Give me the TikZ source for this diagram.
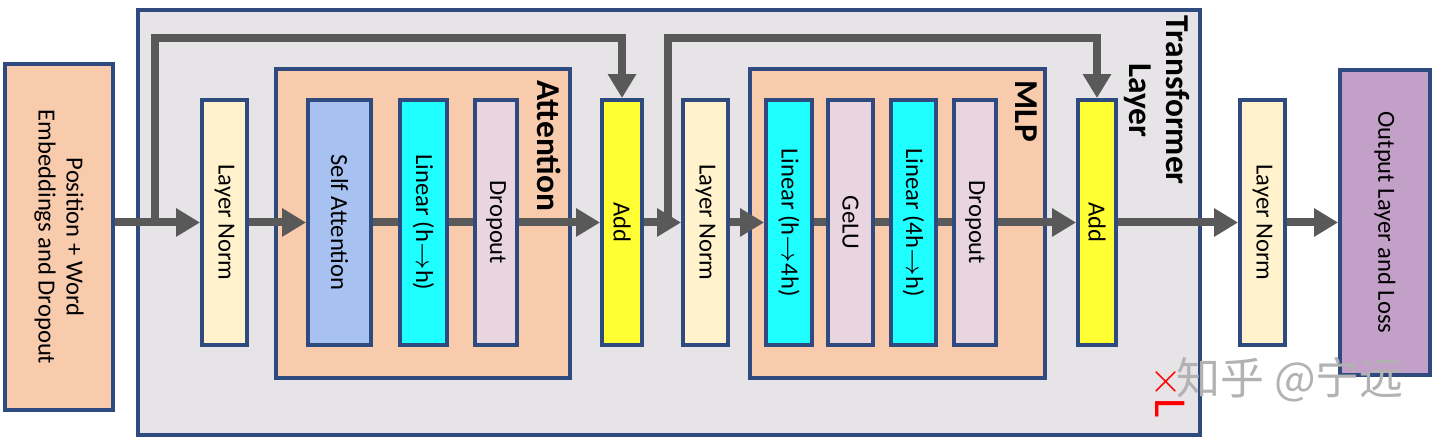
\documentclass[tikz,border=0pt]{standalone}
\usepackage{fontspec}
\setmainfont{Carlito}
\newfontfamily\cjk{Noto Sans CJK SC}
\usetikzlibrary{arrows.meta,positioning,calc}
\definecolor{edgeblue}{HTML}{2F4A7F}
\definecolor{flowgray}{HTML}{595959}
\definecolor{layergray}{HTML}{E6E4E6}
\definecolor{peach}{HTML}{F8CBAD}
\definecolor{cream}{HTML}{FFF2CC}
\definecolor{softblue}{HTML}{A7C1F1}
\definecolor{aqua}{HTML}{1FFFFF}
\definecolor{pinkish}{HTML}{E8D5E0}
\definecolor{lemon}{HTML}{FFFF33}
\definecolor{lilac}{HTML}{C3A0C8}

\begin{document}
\begin{tikzpicture}
      [flow/.style={line width = 0.08cm, draw = flowgray},
      arr/.style={flow, -{Triangle[length = 0.24cm, width = 0.27cm]}},
      group/.style={draw = edgeblue, line width = 1.1pt},
      block/.style= {
         draw = edgeblue,
         line width = 1.1pt,
         rotate = -90,
         minimum width = 2.45cm,
         minimum height = 0.45cm,
         inner sep = 0pt,
         font = \fontsize{7}{8}\selectfont
      },
      title/.style={rotate = -90, font = \fontsize{9.5}{10.5}\selectfont\bfseries, align = center, inner sep = 0pt}]
      \useasboundingbox (0, 0) rectangle (14.4, -4.45);

      % containers
      \draw[group, fill = layergray] (1.38, -0.10) rectangle (12.00, -4.35);
      \draw[group, fill = peach] (2.76, -0.69) rectangle (5.70, -3.78);
      \draw[group, fill = peach] (7.50, -0.69) rectangle (10.45, -3.78);
      \node[title, anchor = north west] (attn) at (5.62, -0.80) {Attention};
      \node[title, anchor = north west] (mlp) at (10.38, -0.80) {MLP};
      \node[title, anchor = north west] (tl) at (11.90, -0.15) {Transformer\\Layer};

      % blocks
      \node[block, fill = peach, minimum width = 3.46cm, minimum height = 1.08cm, align = center] (pos) at (0.59, -2.37) {Position + Word\\Embeddings and Dropout};
      \node[block, fill = cream] (ln1) at (2.245, -2.225) {Layer Norm};
      \node[block, fill = softblue, minimum height = 0.63cm] (sa) at (3.395, -2.225) {Self Attention};
      \node[block, fill = aqua, minimum height = 0.47cm] (lin1) at (4.235, -2.225) {Linear (h$\rightarrow$h)};
      \node[block, fill = pinkish, minimum height = 0.42cm] (drop1) at (4.96, -2.225) {Dropout};
      \node[block, fill = lemon, minimum height = 0.40cm] (add1) at (6.22, -2.225) {Add};
      \node[block, fill = cream] (ln2) at (7.055, -2.225) {Layer Norm};
      \node[block, fill = aqua, minimum height = 0.46cm] (lin2) at (7.89, -2.225) {Linear (h$\rightarrow$4h)};
      \node[block, fill = pinkish] (gelu) at (8.505, -2.225) {GeLU};
      \node[block, fill = aqua] (lin3) at (9.135, -2.225) {Linear (4h$\rightarrow$h)};
      \node[block, fill = pinkish, minimum height = 0.42cm] (drop2) at (9.75, -2.225) {Dropout};
      \node[block, fill = lemon, minimum height = 0.38cm] (add2) at (10.97, -2.225) {Add};
      \node[block, fill = cream] (ln3) at (12.625, -2.225) {Layer Norm};
      \node[block, fill = lilac, minimum width = 3.05cm, minimum height = 0.90cm] (out) at (13.85, -2.225) {Output Layer and Loss};

      % main path
      \draw[arr] (pos.north |- ln1.south) -- (ln1.south);
      \draw[arr] (ln1.north) -- (sa.south);
      \draw[flow] (sa.north) -- (lin1.south);
      \draw[flow] (lin1.north) -- (drop1.south);
      \draw[arr] (drop1.north) -- (add1.south);
      \draw[arr] (add1.north) -- (ln2.south);
      \draw[arr] (ln2.north) -- (lin2.south);
      \draw[flow] (lin2.north) -- (gelu.south);
      \draw[flow] (gelu.north) -- (lin3.south);
      \draw[flow] (lin3.north) -- (drop2.south);
      \draw[arr] (drop2.north) -- (add2.south);
      \draw[arr] (add2.north) -- (ln3.south);
      \draw[arr] (ln3.north) -- (out.south);

      % residual paths
      \coordinate (skipA) at (1.55, -2.225);
      \coordinate (skipB) at (6.68, -2.225);
      \draw[arr] (skipA) -- (1.55, -0.38) -| (add1.west);
      \draw[arr] (skipB) -- (6.68, -0.38) -| (add2.west);

      \node[rotate = -90, text = red, font = \fontsize{13}{13}\selectfont] (reps) at (11.68, -3.92) {$\times$L};
      \node[text = gray!60, font = \cjk\fontsize{12.5}{13}\selectfont] (mark) at (12.90, -3.80) {知乎 @宁远};
   \end{tikzpicture}
\end{document}
